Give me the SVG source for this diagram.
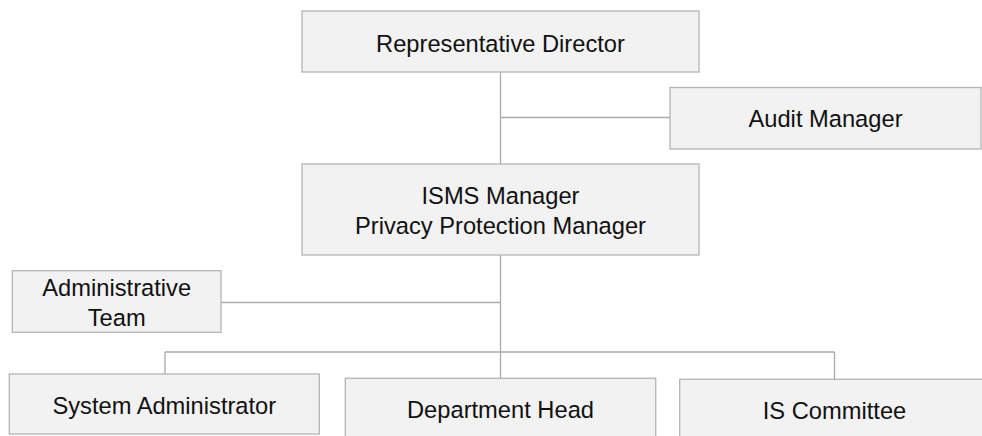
<svg xmlns="http://www.w3.org/2000/svg" width="982" height="436" viewBox="0 0 982 436">
<style>
.box{fill:#f2f2f2;stroke:#b4b4b4;stroke-width:1.3}
.lbl{font-family:"Liberation Sans",Arial,sans-serif;font-size:23.7px;fill:#111;text-anchor:middle}
.ln{stroke:#ababab;stroke-width:1.3;fill:none}
</style>
<rect width="982" height="436" fill="#fff"/>
<g id="connectors">
<path class="ln" d="M500.5 72 V164"/>
<path class="ln" d="M500.5 117.5 H670"/>
<path class="ln" d="M500.5 255 V378"/>
<path class="ln" d="M221 302.5 H500.5"/>
<path class="ln" d="M165 352 H834.5 M165 352 V374 M834.5 352 V379.5"/>
</g>
<g id="rep-director">
<rect class="box" x="302" y="11" width="397" height="61"/>
<text class="lbl" x="500.5" y="51.7">Representative Director</text>
</g>
<g id="audit-manager">
<rect class="box" x="670" y="87.5" width="311" height="61.5"/>
<text class="lbl" x="825.5" y="126.7">Audit Manager</text>
</g>
<g id="isms-manager">
<rect class="box" x="302" y="164" width="397" height="91"/>
<text class="lbl" x="500.5" y="204">ISMS Manager</text>
<text class="lbl" x="500.5" y="234.3">Privacy Protection Manager</text>
</g>
<g id="admin-team">
<rect class="box" x="12.3" y="270.7" width="208.7" height="61.6"/>
<text class="lbl" x="116.7" y="296">Administrative</text>
<text class="lbl" x="116.7" y="325.7">Team</text>
</g>
<g id="system-admin">
<rect class="box" x="9.3" y="374" width="310" height="60"/>
<text class="lbl" x="164.3" y="414.3">System Administrator</text>
</g>
<g id="dept-head">
<rect class="box" x="345.3" y="378.3" width="310.4" height="62"/>
<text class="lbl" x="500.5" y="417.7">Department Head</text>
</g>
<g id="is-committee">
<rect class="box" x="679.7" y="379.3" width="310" height="62"/>
<text class="lbl" x="834.5" y="419">IS Committee</text>
</g>
</svg>
